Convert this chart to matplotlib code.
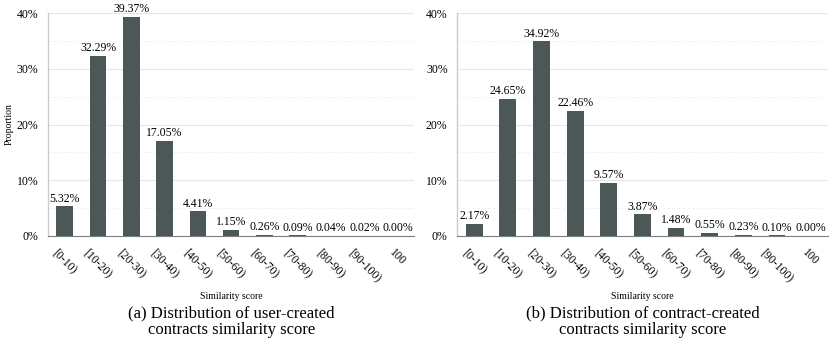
import matplotlib
matplotlib.use("Agg")
import matplotlib.pyplot as plt
import numpy as np

categories = ["[0-10)", "[10-20)", "[20-30)", "[30-40)", "[40-50)", "[50-60)",
              "[60-70)", "[70-80)", "[80-90)", "[90-100)", "100"]
user_created = [5.32, 32.29, 39.37, 17.05, 4.41, 1.15, 0.26, 0.09, 0.04, 0.02, 0.00]
contract_created = [2.17, 24.65, 34.92, 22.46, 9.57, 3.87, 1.48, 0.55, 0.23, 0.10, 0.00]
yticks = [0, 10, 20, 30, 40]
captions = ["(a) Distribution of user-created\ncontracts similarity score",
            "(b) Distribution of contract-created\ncontracts similarity score"]

plt.rcParams['font.family'] = ['Liberation Serif', 'DejaVu Serif']

fig = plt.figure(figsize=(8.3, 3.43), dpi=100)
bar_color = "#4c5857"

axes_pos = [[0.058, 0.312, 0.441, 0.650], [0.551, 0.312, 0.446, 0.650]]
series = [user_created, contract_created]

for i, (pos, vals, cap) in enumerate(zip(axes_pos, series, captions)):
    ax = fig.add_axes(pos)
    x = np.arange(len(categories))
    ax.bar(x, vals, width=0.5, color=bar_color, zorder=3)
    for xi, v in zip(x, vals):
        ax.text(xi, v + 0.3, f"{v:.2f}%", ha="center", va="bottom", fontsize=8.5, zorder=4)
    ax.set_xlim(-0.5, len(categories) - 0.5)
    ax.set_ylim(0, 40)
    ax.set_yticks(yticks)
    ax.set_yticklabels([f"{t}%" for t in yticks], fontsize=8.5)
    ax.set_yticks([5, 15, 25, 35], minor=True)
    ax.tick_params(axis='y', which='both', length=0, pad=7)
    ax.grid(axis='y', which='major', color="#e6e6e6", linewidth=0.8, zorder=0)
    ax.grid(axis='y', which='minor', color="#eeeeee", linewidth=0.6, linestyle=(0, (3, 3)), zorder=0)
    ax.set_xticks(x)
    ax.set_xticklabels(categories, rotation=-45, ha="center", va="top", fontsize=8.5)
    ax.tick_params(axis='x', length=0, pad=8)
    for s in ["top", "right"]:
        ax.spines[s].set_visible(False)
    ax.spines["left"].set_color("#c8cccc")
    ax.spines["left"].set_linewidth(1.0)
    ax.spines["bottom"].set_color("#7a7f7f")
    ax.spines["bottom"].set_linewidth(0.8)
    ax.set_xlabel("Similarity score", fontsize=7, labelpad=5)
    if i == 0:
        ax.set_ylabel("Proportion", fontsize=7, labelpad=2)
    cx = pos[0] + pos[2] / 2
    fig.text(cx, 0.015, cap, ha="center", va="bottom", fontsize=12, linespacing=1.05)

fig.savefig("out.png", dpi=100)
